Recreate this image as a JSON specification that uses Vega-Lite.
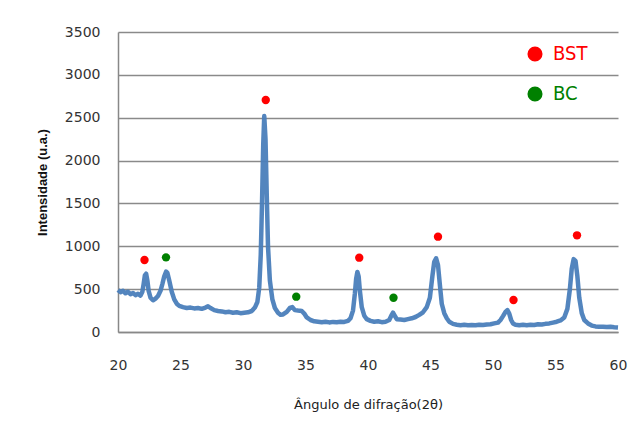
{
  "$schema": "https://vega.github.io/schema/vega-lite/v6.json",
  "width": 500,
  "height": 300,
  "autosize": {"type": "none"},
  "padding": {"left": 118, "top": 32, "right": 19, "bottom": 100},
  "background": "white",
  "config": {
    "view": {"stroke": null},
    "font": "DejaVu Sans",
    "axis": {
      "ticks": false,
      "domainColor": "#888888",
      "domainWidth": 1.5,
      "labelFont": "DejaVu Sans",
      "labelFontSize": 14,
      "labelColor": "#333333",
      "labelFlush": false,
      "labelOverlap": false
    },
    "axisX": {"grid": false, "labelPadding": 26, "titlePadding": 26},
    "axisY": {"grid": true, "gridColor": "#8a8a8a", "gridWidth": 1.3, "gridOpacity": 1, "labelPadding": 18, "titlePadding": 15}
  },
  "datasets": {
    "xrd": [
      {"t": 20.0, "i": 490}, {"t": 20.2, "i": 465}, {"t": 20.4, "i": 480}, {"t": 20.6, "i": 452},
      {"t": 20.8, "i": 470}, {"t": 21.0, "i": 440}, {"t": 21.2, "i": 455}, {"t": 21.4, "i": 430},
      {"t": 21.6, "i": 445}, {"t": 21.8, "i": 425}, {"t": 21.95, "i": 470}, {"t": 22.05, "i": 560},
      {"t": 22.15, "i": 660}, {"t": 22.25, "i": 680}, {"t": 22.35, "i": 600}, {"t": 22.45, "i": 480},
      {"t": 22.6, "i": 400}, {"t": 22.8, "i": 370}, {"t": 23.0, "i": 390}, {"t": 23.2, "i": 420},
      {"t": 23.4, "i": 480}, {"t": 23.55, "i": 560}, {"t": 23.7, "i": 650}, {"t": 23.85, "i": 705},
      {"t": 23.95, "i": 690}, {"t": 24.1, "i": 600}, {"t": 24.3, "i": 470}, {"t": 24.5, "i": 380},
      {"t": 24.7, "i": 330}, {"t": 24.9, "i": 305}, {"t": 25.2, "i": 290}, {"t": 25.5, "i": 280},
      {"t": 25.8, "i": 285}, {"t": 26.1, "i": 275}, {"t": 26.4, "i": 280}, {"t": 26.7, "i": 270},
      {"t": 27.0, "i": 285}, {"t": 27.2, "i": 300}, {"t": 27.4, "i": 280}, {"t": 27.7, "i": 255},
      {"t": 28.0, "i": 245}, {"t": 28.3, "i": 240}, {"t": 28.6, "i": 230}, {"t": 28.9, "i": 235},
      {"t": 29.2, "i": 225}, {"t": 29.5, "i": 230}, {"t": 29.8, "i": 220}, {"t": 30.1, "i": 225},
      {"t": 30.4, "i": 230}, {"t": 30.7, "i": 245}, {"t": 30.95, "i": 285}, {"t": 31.15, "i": 350},
      {"t": 31.3, "i": 520}, {"t": 31.42, "i": 900}, {"t": 31.52, "i": 1500}, {"t": 31.62, "i": 2200},
      {"t": 31.7, "i": 2520}, {"t": 31.8, "i": 2250}, {"t": 31.9, "i": 1600}, {"t": 32.0, "i": 1000},
      {"t": 32.15, "i": 600}, {"t": 32.35, "i": 380}, {"t": 32.55, "i": 280}, {"t": 32.8, "i": 225},
      {"t": 33.0, "i": 200}, {"t": 33.2, "i": 205}, {"t": 33.5, "i": 235}, {"t": 33.75, "i": 280},
      {"t": 33.95, "i": 290}, {"t": 34.15, "i": 255}, {"t": 34.4, "i": 250}, {"t": 34.7, "i": 245},
      {"t": 34.9, "i": 215}, {"t": 35.1, "i": 170}, {"t": 35.4, "i": 140}, {"t": 35.7, "i": 125},
      {"t": 36.0, "i": 120}, {"t": 36.3, "i": 115}, {"t": 36.6, "i": 120}, {"t": 36.9, "i": 112},
      {"t": 37.2, "i": 118}, {"t": 37.5, "i": 115}, {"t": 37.8, "i": 120}, {"t": 38.1, "i": 118},
      {"t": 38.4, "i": 130}, {"t": 38.6, "i": 160}, {"t": 38.8, "i": 250}, {"t": 38.95, "i": 450},
      {"t": 39.05, "i": 620}, {"t": 39.15, "i": 700}, {"t": 39.25, "i": 650}, {"t": 39.35, "i": 480},
      {"t": 39.5, "i": 290}, {"t": 39.7, "i": 190}, {"t": 39.9, "i": 150}, {"t": 40.2, "i": 130},
      {"t": 40.5, "i": 120}, {"t": 40.8, "i": 125}, {"t": 41.1, "i": 115}, {"t": 41.4, "i": 120},
      {"t": 41.7, "i": 140}, {"t": 41.9, "i": 200}, {"t": 42.0, "i": 225}, {"t": 42.1, "i": 200},
      {"t": 42.3, "i": 150}, {"t": 42.6, "i": 145}, {"t": 42.9, "i": 140}, {"t": 43.2, "i": 150},
      {"t": 43.5, "i": 160}, {"t": 43.8, "i": 175}, {"t": 44.1, "i": 200}, {"t": 44.4, "i": 230},
      {"t": 44.7, "i": 290}, {"t": 44.95, "i": 400}, {"t": 45.15, "i": 650}, {"t": 45.3, "i": 820},
      {"t": 45.45, "i": 860}, {"t": 45.6, "i": 780}, {"t": 45.75, "i": 550}, {"t": 45.9, "i": 330},
      {"t": 46.1, "i": 220}, {"t": 46.3, "i": 160}, {"t": 46.5, "i": 120}, {"t": 46.8, "i": 95},
      {"t": 47.1, "i": 85}, {"t": 47.4, "i": 80}, {"t": 47.7, "i": 85}, {"t": 48.0, "i": 80},
      {"t": 48.3, "i": 82}, {"t": 48.6, "i": 78}, {"t": 48.9, "i": 85}, {"t": 49.2, "i": 82},
      {"t": 49.5, "i": 88}, {"t": 49.8, "i": 90}, {"t": 50.1, "i": 100}, {"t": 50.4, "i": 110},
      {"t": 50.6, "i": 140}, {"t": 50.8, "i": 185}, {"t": 51.0, "i": 235}, {"t": 51.15, "i": 255},
      {"t": 51.3, "i": 215}, {"t": 51.45, "i": 140}, {"t": 51.6, "i": 100}, {"t": 51.8, "i": 85},
      {"t": 52.1, "i": 80}, {"t": 52.4, "i": 85}, {"t": 52.7, "i": 80}, {"t": 53.0, "i": 85},
      {"t": 53.3, "i": 82}, {"t": 53.6, "i": 90}, {"t": 53.9, "i": 88}, {"t": 54.2, "i": 95},
      {"t": 54.5, "i": 100}, {"t": 54.8, "i": 110}, {"t": 55.1, "i": 120}, {"t": 55.4, "i": 135},
      {"t": 55.7, "i": 170}, {"t": 55.95, "i": 270}, {"t": 56.15, "i": 500}, {"t": 56.3, "i": 740},
      {"t": 56.45, "i": 850}, {"t": 56.6, "i": 830}, {"t": 56.75, "i": 650}, {"t": 56.9, "i": 400},
      {"t": 57.1, "i": 220}, {"t": 57.3, "i": 140}, {"t": 57.6, "i": 100}, {"t": 57.9, "i": 75},
      {"t": 58.2, "i": 65}, {"t": 58.5, "i": 60}, {"t": 58.8, "i": 62}, {"t": 59.1, "i": 58},
      {"t": 59.4, "i": 60}, {"t": 59.7, "i": 55}, {"t": 60.0, "i": 52}
    ],
    "marks": [
      {"t": 22.12, "i": 840, "fase": "BST"},
      {"t": 23.84, "i": 871, "fase": "BC"},
      {"t": 31.82, "i": 2707, "fase": "BST"},
      {"t": 34.26, "i": 412, "fase": "BC"},
      {"t": 39.3, "i": 867, "fase": "BST"},
      {"t": 42.04, "i": 400, "fase": "BC"},
      {"t": 45.6, "i": 1112, "fase": "BST"},
      {"t": 51.64, "i": 373, "fase": "BST"},
      {"t": 56.72, "i": 1128, "fase": "BST"}
    ]
  },
  "encoding": {
    "x": {
      "field": "t",
      "type": "quantitative",
      "scale": {"domain": [20, 60], "nice": false, "zero": false},
      "axis": {
        "title": "Ângulo de difração(2θ)",
        "values": [20, 25, 30, 35, 40, 45, 50, 55, 60],
        "format": "d",
        "titleFont": "DejaVu Sans",
        "titleFontSize": 13,
        "titleFontWeight": "normal",
        "titleColor": "#222222"
      }
    },
    "y": {
      "field": "i",
      "type": "quantitative",
      "scale": {"domain": [0, 3500], "nice": false},
      "axis": {
        "title": "Intensidade (u.a.)",
        "values": [0, 500, 1000, 1500, 2000, 2500, 3000, 3500],
        "format": "d",
        "titleFont": "Liberation Sans",
        "titleFontSize": 13,
        "titleFontWeight": "bold",
        "titleColor": "#111111"
      }
    }
  },
  "layer": [
    {
      "data": {"name": "xrd"},
      "mark": {"type": "line", "color": "#4a7ebb", "strokeWidth": 4.5, "strokeJoin": "round", "opacity": 0.95}
    },
    {
      "data": {"name": "marks"},
      "mark": {"type": "circle", "size": 70, "opacity": 1},
      "encoding": {
        "color": {
          "field": "fase",
          "type": "nominal",
          "scale": {"domain": ["BST", "BC"], "range": ["#ff0000", "#008000"]},
          "legend": {
            "title": null,
            "orient": "none",
            "legendX": 407,
            "legendY": 12,
            "direction": "vertical",
            "symbolType": "circle",
            "symbolSize": 227,
            "symbolOpacity": 1,
            "symbolStrokeWidth": 0,
            "labelFont": "DejaVu Sans Condensed",
            "labelFontSize": 20,
            "labelOffset": 8,
            "labelColor": {"expr": "datum.label === 'BST' ? '#ff0000' : '#008000'"},
            "rowPadding": 20,
            "padding": 0
          }
        }
      }
    }
  ]
}
